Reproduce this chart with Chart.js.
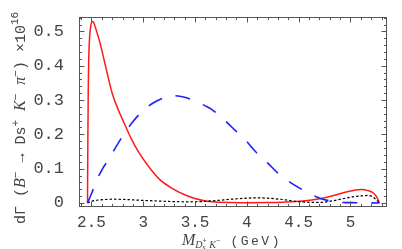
<!DOCTYPE html>
<html>
<head>
<meta charset="utf-8">
<script src="https://cdn.jsdelivr.net/npm/chart.js@4.4.1/dist/chart.umd.min.js"></script>
<style>
  html, body { margin: 0; padding: 0; background: #fff; }
  canvas { display: block; }
</style>
</head>
<body>
<canvas id="chart" width="402" height="249"></canvas>
<script>
// Axis ticks
const xTicks = [2.5, 3, 3.5, 4, 4.5, 5];
const xTickLabels = ['2.5', '3', '3.5', '4', '4.5', '5'];
const yTicks = [0, 0.1, 0.2, 0.3, 0.4, 0.5];
const yTickLabels = ['0', '0.1', '0.2', '0.3', '0.4', '0.5'];

// Solid red curve
const redMass = [2.462, 2.465, 2.469, 2.475, 2.484, 2.495, 2.508, 2.52, 2.545, 2.58, 2.62, 2.66, 2.70, 2.76, 2.82,
  2.89, 2.95, 3.05, 3.16, 3.30, 3.40, 3.50, 3.60, 3.70, 3.85, 4.00, 4.20, 4.35, 4.47, 4.61, 4.72, 4.83, 4.96,
  5.05, 5.11, 5.17, 5.22, 5.255, 5.28];
const redRate = [0, 0.16, 0.32, 0.43, 0.49, 0.518, 0.529, 0.527, 0.505, 0.47, 0.42, 0.368, 0.32, 0.271, 0.23,
  0.184, 0.151, 0.107, 0.068, 0.039, 0.024, 0.013, 0.006, 0.003, 0.0015, 0.001, 0.0015, 0.0025, 0.004, 0.008,
  0.013, 0.021, 0.032, 0.038, 0.0395, 0.036, 0.029, 0.017, 0];

// Dashed blue curve
const blueMass = [2.462, 2.50, 2.55, 2.60, 2.66, 2.73, 2.81, 2.89, 2.99, 3.10, 3.20, 3.28, 3.40, 3.50, 3.60,
  3.66, 3.77, 3.88, 3.98, 4.09, 4.20, 4.30, 4.43, 4.56, 4.68, 4.80, 4.90, 5.00, 5.28];
const blueRate = [0, 0.027, 0.065, 0.096, 0.124, 0.160, 0.199, 0.233, 0.267, 0.292, 0.307, 0.313, 0.308, 0.297,
  0.283, 0.273, 0.245, 0.214, 0.185, 0.148, 0.117, 0.087, 0.058, 0.035, 0.017, 0.006, 0.002, 0.001, 0];

// Dotted black curve
const blackMass = [2.462, 2.50, 2.55, 2.62, 2.70, 2.80, 2.90, 3.00, 3.20, 3.40, 3.55, 3.70, 3.85, 4.00, 4.10,
  4.20, 4.35, 4.50, 4.62, 4.72, 4.82, 4.92, 5.02, 5.12, 5.17, 5.22, 5.28];
const blackRate = [0, 0.005, 0.008, 0.010, 0.011, 0.0105, 0.009, 0.0075, 0.005, 0.0035, 0.004, 0.007, 0.011,
  0.014, 0.015, 0.014, 0.010, 0.004, 0.002, 0.002, 0.006, 0.012, 0.018, 0.021, 0.022, 0.017, 0];

function toPoints(xs, ys) {
  return xs.map((x, i) => ({ x: x, y: ys[i] }));
}

const MONO = '"Liberation Mono", "DejaVu Sans Mono", monospace';
const SERIF = '"Liberation Serif", "DejaVu Serif", serif';
const TEXT = '#444';

// draw a run of text pieces, each with its own font and baseline shift
function drawRich(ctx, parts, x0, y0) {
  let x = x0, prevStart = x0, prevW = 0;
  parts.forEach(p => {
    ctx.font = p.font;
    ctx.letterSpacing = p.spacing || '0px';
    const w = ctx.measureText(p.text).width;
    let startX = x;
    if (p.stack) {
      startX = prevStart;
      x = prevStart + Math.max(prevW, w);
    } else {
      x += w;
    }
    ctx.fillText(p.text, startX, y0 + (p.dy || 0));
    prevStart = startX;
    prevW = w;
  });
  ctx.letterSpacing = '0px';
}

const yTitleParts = [
  { text: 'd\u0393 (', font: '15px ' + MONO },
  { text: 'B', font: 'italic 16px ' + SERIF },
  { text: '\u2212', font: '11px ' + MONO, dy: -6 },
  { text: ' \u2192 ', font: '15px ' + MONO },
  { text: 'Ds', font: '15px ' + MONO },
  { text: '+', font: '11px ' + MONO, dy: -6 },
  { text: ' ', font: '15px ' + MONO },
  { text: 'K', font: 'italic 16px ' + SERIF },
  { text: '\u2212', font: '11px ' + MONO, dy: -6 },
  { text: ' ', font: '15px ' + MONO },
  { text: '\u03c0', font: 'italic 16px ' + SERIF },
  { text: '\u2212', font: '11px ' + MONO, dy: -6 },
  { text: ') \u00d710', font: '15px ' + MONO },
  { text: '16', font: '11px ' + MONO, dy: -7 }
];

const xTitleParts = [
  { text: 'M', font: 'italic 16px ' + SERIF },
  { text: 'D', font: 'italic 10px ' + SERIF, dy: 3 },
  { text: 's', font: 'italic 8px ' + SERIF, dy: 5 },
  { text: '+', font: '7px ' + MONO, dy: -2, stack: true },
  { text: ' K', font: 'italic 10px ' + SERIF, dy: 3 },
  { text: '\u2212', font: '7px ' + MONO, dy: -2 },
  { text: ' (GeV)', font: '13px ' + MONO, spacing: '2.5px' }
];

// Mathematica style frame: box with inward ticks on all four sides, x tick labels and axis titles
const frameTicks = {
  id: 'frameTicks',
  afterDatasetsDraw(chart) {
    const { ctx, chartArea: a, scales: { x, y } } = chart;
    const L = Math.round(a.left) + 0.5, R = Math.round(a.right) - 0.5;
    const T = Math.round(a.top) + 0.5, B = Math.round(a.bottom) - 0.5;
    ctx.save();
    ctx.strokeStyle = '#555';
    ctx.lineWidth = 1;
    ctx.strokeRect(L, T, R - L, B - T);

    ctx.beginPath();
    for (let k = 24; k <= 53; k++) {
      const px = Math.round(x.getPixelForValue(k / 10)) + 0.5;
      if (px <= L || px >= R) continue;
      const len = k % 5 === 0 ? 5 : 2.5;
      ctx.moveTo(px, B); ctx.lineTo(px, B - len);
      ctx.moveTo(px, T); ctx.lineTo(px, T + len);
    }
    for (let k = 0; k <= 27; k++) {
      const py = Math.round(y.getPixelForValue(k * 0.02)) + 0.5;
      if (py <= T || py >= B) continue;
      const len = k % 5 === 0 ? 5 : 2.5;
      ctx.moveTo(L, py); ctx.lineTo(L + len, py);
      ctx.moveTo(R, py); ctx.lineTo(R - len, py);
    }
    ctx.stroke();

    // x tick labels, baseline 20px under the frame
    ctx.fillStyle = TEXT;
    ctx.font = '16px ' + MONO;
    ctx.textAlign = 'center';
    ctx.textBaseline = 'alphabetic';
    xTicks.forEach((v, i) => {
      ctx.fillText(xTickLabels[i], x.getPixelForValue(v), a.bottom + 20);
    });
    ctx.restore();
  },
  afterDraw(chart) {
    const ctx = chart.ctx;
    ctx.save();
    ctx.fillStyle = TEXT;
    ctx.textBaseline = 'alphabetic';
    ctx.textAlign = 'left';
    ctx.translate(25, 224);
    ctx.rotate(-Math.PI / 2);
    drawRich(ctx, yTitleParts, 0, 0);
    ctx.restore();

    ctx.save();
    ctx.fillStyle = TEXT;
    ctx.textBaseline = 'alphabetic';
    ctx.textAlign = 'left';
    drawRich(ctx, xTitleParts, 182, 245);
    ctx.restore();
  }
};

new Chart(document.getElementById('chart'), {
  type: 'line',
  data: {
    datasets: [
      { data: toPoints(blueMass, blueRate), borderColor: '#1f1fff', borderWidth: 1.6, borderDash: [15, 14] },
      { data: toPoints(blackMass, blackRate), borderColor: '#000', borderWidth: 1.2, borderDash: [2.5, 2] },
      { data: toPoints(redMass, redRate), borderColor: '#ff1a1a', borderWidth: 1.5 }
    ]
  },
  options: {
    responsive: false,
    animation: false,
    devicePixelRatio: 1,
    layout: { padding: { top: 17, right: 15, left: 0, bottom: 0 } },
    elements: {
      point: { radius: 0 },
      line: { cubicInterpolationMode: 'monotone', fill: false }
    },
    plugins: { legend: { display: false }, tooltip: { enabled: false } },
    scales: {
      x: {
        type: 'linear', min: 2.38, max: 5.353,
        grid: { display: false }, border: { display: false },
        afterBuildTicks: s => { s.ticks = xTicks.map(v => ({ value: v })); },
        afterFit: s => { s.height = 42; s.paddingLeft = 0; s.paddingRight = 0; },
        ticks: { display: false }
      },
      y: {
        type: 'linear', min: -0.0117, max: 0.542,
        grid: { display: false }, border: { display: false },
        afterBuildTicks: s => { s.ticks = yTicks.map(v => ({ value: v })); },
        afterFit: s => { s.width = 79; s.paddingTop = 0; s.paddingBottom = 0; },
        ticks: {
          callback: (v, i) => yTickLabels[i],
          font: { family: MONO, size: 17 }, color: TEXT, padding: 7
        }
      }
    }
  },
  plugins: [frameTicks]
});
</script>
</body>
</html>
